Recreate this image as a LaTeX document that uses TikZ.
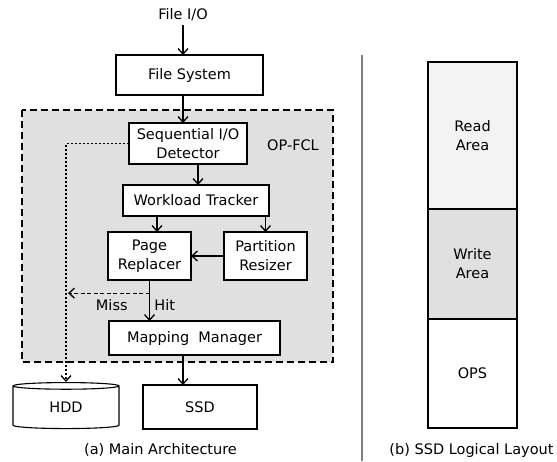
\documentclass[tikz,border=0pt]{standalone}
\usepackage{fontspec}
\setmainfont{DejaVu Sans}
\usepackage{tikz}
\usetikzlibrary{positioning}
\usetikzlibrary{calc}
\usetikzlibrary{shapes}
\usetikzlibrary{arrows.meta}

\definecolor{regiongray}{HTML}{E0E0E0}
\definecolor{readgray}{HTML}{F3F3F3}

\begin{document}
\begin{tikzpicture}[x=1pt,y=-1pt, font=\fontsize{14.5}{19}\selectfont, line width=1.1pt,
  >={Straight Barb[length=5.5pt,width=10pt,line width=1.3pt]},
  block/.style={draw, fill=white, align=center, inner sep=0pt, outer sep=0pt},
  opregion/.style={draw, fill=regiongray, dash pattern=on 7pt off 4pt, line width=1.3pt},
  missline/.style={->, dash pattern=on 4pt off 2.5pt, shorten >=2pt},
  bypass/.style={->, dash pattern=on 2.5pt off 1.5pt},
  sepline/.style={draw=gray, line width=1.3pt}]
\useasboundingbox (0,0) rectangle (557,461);

% main architecture
\draw[opregion] (22,110) rectangle (333,362);
\node (fileio) at (183,15) {File I/O};
\node[block, minimum width=147pt, minimum height=40pt] (fs) at (189.5,75) {File System};
\node[block, minimum width=118pt, minimum height=41pt] (seq) at (188,143.5) {Sequential I/O\\Detector};
\node (opfcl) at (293,145) {OP-FCL};
\node[block, minimum width=146pt, minimum height=31pt] (wt) at (196,200.5) {Workload Tracker};
\node[block, minimum width=83pt, minimum height=48pt] (page) at (149.5,256) {Page\\Replacer};
\node[block, minimum width=83pt, minimum height=48pt, right=33pt of page] (part) {Partition\\Resizer};
\node[block, minimum width=171pt, minimum height=34pt] (mm) at (194.5,338) {Mapping\ \ Manager};
\node[block, minimum width=114pt, minimum height=44pt] (ssd) at (200,407) {SSD};
\node[cylinder, shape border rotate=90, draw, fill=white, aspect=0.2, minimum width=106pt, minimum height=46pt, inner sep=0pt] (hdd) at (66,407.5) {HDD};
\node (capa) at (160.5,450) {(a) Main Architecture};

\draw[->] (fileio) -- (fileio |- fs.north);
\draw[->] (fileio |- fs.south) -- (fileio |- seq.north);
\draw[->] ([xshift=10pt]seq.south) -- ([xshift=10pt]seq.south |- wt.north);
\draw[->] ([xshift=7.5pt]page.north |- wt.south) -- ([xshift=7.5pt]page.north);
\draw[->] (part.north |- wt.south) -- (part.north);
\draw[->] (part) -- (page);
\draw[->] (page) -- node[pos=0.62, right=1pt] {Hit} node[pos=0.62, left=18pt] {Miss} (page |- mm.north);
\coordinate (branch) at ($(page.south)!0.32!(page.south |- mm.north)$);
\draw[missline] (branch) -- (branch -| hdd.north);
\draw[bypass] (seq.west) -| (hdd.north);
\draw[->] (fileio |- mm.south) -- (fileio |- ssd.north);

% ssd logical layout
\draw[sepline] (362,55) -- (362,461);
\node[block, fill=readgray, minimum width=89pt, minimum height=147pt] (read) at (472.5,135.5) {Read\\Area};
\node[block, fill=regiongray, minimum width=89pt, minimum height=110pt, below=0pt of read] (write) {Write\\Area};
\node[block, minimum width=89pt, minimum height=109pt, below=0pt of write] (ops) {OPS};
\node (capb) at (471.5,450) {(b) SSD Logical Layout};
\end{tikzpicture}
\end{document}
